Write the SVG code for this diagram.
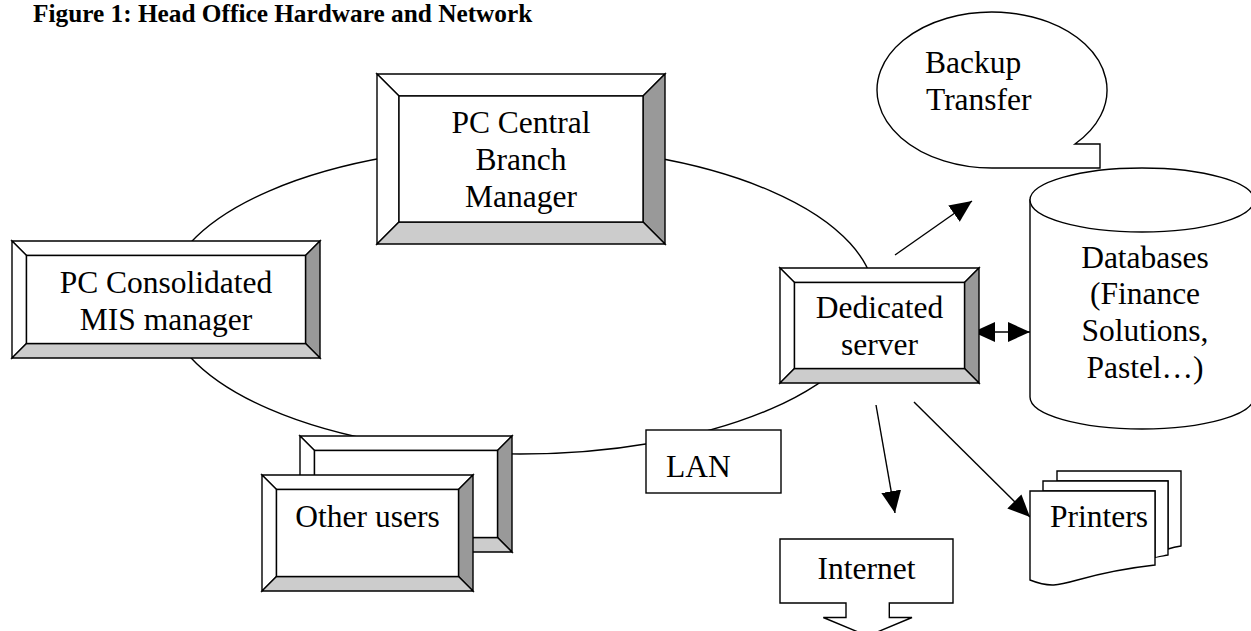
<svg xmlns="http://www.w3.org/2000/svg" width="1251" height="631" viewBox="0 0 1251 631">
<defs>
<style>
.s{stroke:#000;stroke-width:1.4;stroke-linejoin:miter}
.w{fill:#fff}
.g1{fill:#999}
.g2{fill:#ccc}
.t{font-family:"Liberation Serif","Times New Roman",serif;font-size:31.5px;fill:#000}
.c{text-anchor:middle}
.title{font-family:"Liberation Serif","Times New Roman",serif;font-size:25.3px;font-weight:bold;fill:#000}
.ln{fill:none;stroke:#000;stroke-width:1.4}
.arr{marker-end:url(#ah)}
</style>
<marker id="ah" markerUnits="userSpaceOnUse" markerWidth="24" markerHeight="22" refX="22" refY="10" orient="auto-start-reverse" viewBox="0 0 24 22"><path d="M0,0 L22,10 L0,20 Z" fill="#000"/></marker>
</defs>
<rect x="0" y="0" width="1251" height="631" fill="#fff"/>
<text class="title" x="33" y="22">Figure 1: Head Office Hardware and Network</text>

<g id="connectors">
<ellipse id="lan-ring" class="ln" cx="520" cy="300" rx="355" ry="154"/>
<line class="ln arr" x1="895" y1="255" x2="972" y2="201"/>
<line class="ln arr" x1="973" y1="332" x2="1030" y2="332" style="marker-start:url(#ah)"/>
<line class="ln arr" x1="876" y1="405" x2="895" y2="513"/>
<line class="ln arr" x1="914" y1="402" x2="1030" y2="517"/>
</g>

<g id="pc-central">
<polygon class="s w" points="377,74 665,74 643,96 399,96"/>
<polygon class="s w" points="377,74 399,96 399,222 377,244"/>
<polygon class="s g1" points="665,74 665,244 643,222 643,96"/>
<polygon class="s g2" points="377,244 665,244 643,222 399,222"/>
<rect class="s w" x="399" y="96" width="244" height="126"/>
<text class="t c" x="521" y="133">PC Central</text>
<text class="t c" x="521" y="170">Branch</text>
<text class="t c" x="521" y="207">Manager</text>
</g>

<g id="pc-consolidated">
<polygon class="s w" points="12,241 320,241 305.5,255.5 26.5,255.5"/>
<polygon class="s w" points="12,241 26.5,255.5 26.5,343.5 12,358"/>
<polygon class="s g1" points="320,241 320,358 305.5,343.5 305.5,255.5"/>
<polygon class="s g2" points="12,358 320,358 305.5,343.5 26.5,343.5"/>
<rect class="s w" x="26.5" y="255.5" width="279" height="88"/>
<text class="t c" x="166" y="293">PC Consolidated</text>
<text class="t c" x="166" y="330">MIS manager</text>
</g>

<g id="dedicated-server">
<polygon class="s w" points="780,268 979,268 964.5,282.5 794.5,282.5"/>
<polygon class="s w" points="780,268 794.5,282.5 794.5,368.5 780,383"/>
<polygon class="s g1" points="979,268 979,383 964.5,368.5 964.5,282.5"/>
<polygon class="s g2" points="780,383 979,383 964.5,368.5 794.5,368.5"/>
<rect class="s w" x="794.5" y="282.5" width="170" height="86"/>
<text class="t c" x="879.5" y="318">Dedicated</text>
<text class="t c" x="879.5" y="355">server</text>
</g>

<g id="other-users">
<polygon class="s w" points="300,436 512,436 497.5,450.5 314.5,450.5"/>
<polygon class="s w" points="300,436 314.5,450.5 314.5,537.5 300,552"/>
<polygon class="s g1" points="512,436 512,552 497.5,537.5 497.5,450.5"/>
<polygon class="s g2" points="300,552 512,552 497.5,537.5 314.5,537.5"/>
<rect class="s w" x="314.5" y="450.5" width="183" height="87"/>
<polygon class="s w" points="262,475 473,475 458.5,489.5 276.5,489.5"/>
<polygon class="s w" points="262,475 276.5,489.5 276.5,576.5 262,591"/>
<polygon class="s g1" points="473,475 473,591 458.5,576.5 458.5,489.5"/>
<polygon class="s g2" points="262,591 473,591 458.5,576.5 276.5,576.5"/>
<rect class="s w" x="276.5" y="489.5" width="182" height="87"/>
<text class="t c" x="367.5" y="527">Other users</text>
</g>

<g id="lan">
<rect class="s w" x="646" y="430" width="135" height="63"/>
<text class="t" x="666" y="477">LAN</text>
</g>

<g id="internet">
<path class="s w" d="M780,539 H953 V603 H889.3 V617.5 H912 L867.7,636 L823.3,617.5 H846 V603 H780 Z"/>
<text class="t c" x="866.5" y="579">Internet</text>
</g>

<g id="printers">
<path class="s w" d="M1057,481 V471 H1181 V546 C1174,547 1168,549 1168,549 V481 Z"/>
<path class="s w" d="M1043,491 V481 H1168 V555 C1163,556 1155,557 1155,558 V491 Z"/>
<path class="s w" d="M1030,580 C1065,594 1065,575 1155,565 V491 H1030 Z"/>
<text class="t" x="1050" y="527">Printers</text>
</g>

<g id="backup-transfer">
<path class="s w" d="M1075,144 A115,78 0 1 0 992,168 L1100,168 L1100,144 Z"/>
<text class="t" x="925" y="73">Backup</text>
<text class="t" x="926" y="110">Transfer</text>
</g>

<g id="databases">
<path class="s w" d="M1030,200 V397 A112,32 0 0 0 1254,397 V200 Z"/>
<ellipse class="s w" cx="1142" cy="200" rx="112" ry="32"/>
<text class="t c" x="1145" y="268">Databases</text>
<text class="t c" x="1145" y="304">(Finance</text>
<text class="t c" x="1145" y="341">Solutions,</text>
<text class="t c" x="1145" y="378">Pastel…)</text>
</g>
</svg>
